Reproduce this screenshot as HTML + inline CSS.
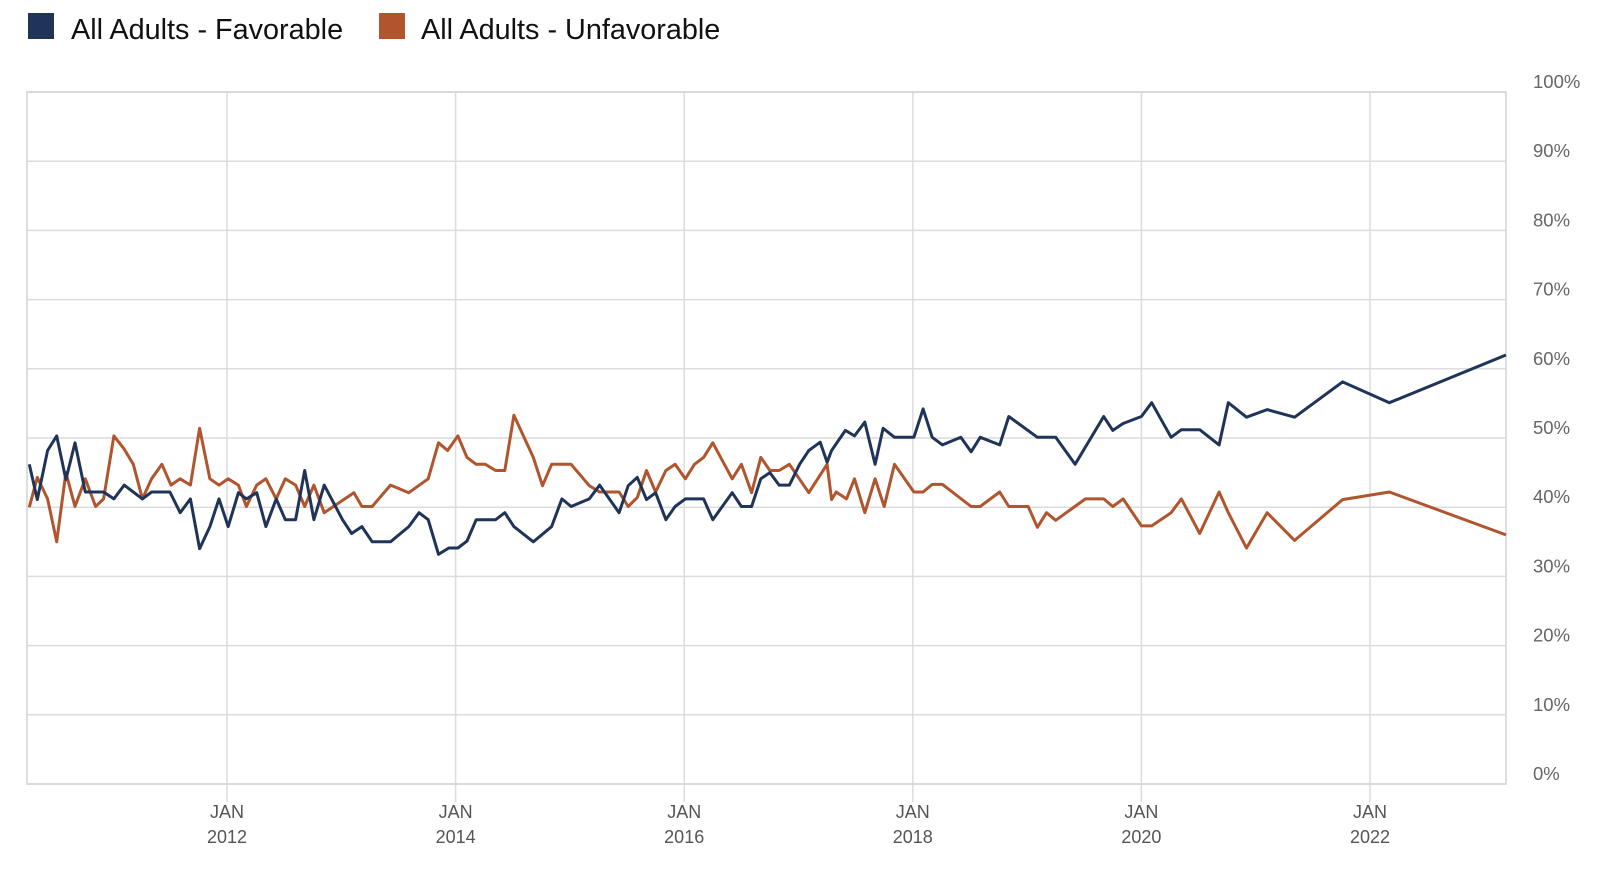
<!DOCTYPE html>
<html><head><meta charset="utf-8">
<style>
html,body{margin:0;padding:0;background:#fff;}
body{width:1600px;height:874px;overflow:hidden;font-family:"Liberation Sans",Arial,sans-serif;}
svg{display:block;}
</style></head>
<body>
<svg id="chart" width="1600" height="874" xmlns="http://www.w3.org/2000/svg">
  <g>
    <g>
      <rect x="28" y="13" width="26" height="26" fill="#1f3458"/>
      <text x="71" y="39" font-size="28.8" fill="#111">All Adults - Favorable</text>
    </g>
    <g>
      <rect x="379" y="13" width="26" height="26" fill="#b0552e"/>
      <text x="421" y="39" font-size="28.8" fill="#111">All Adults - Unfavorable</text>
    </g>
  </g>
  <g id="grid"></g>
  <g id="series"></g>
  <g id="axes"></g>
</svg>
<script>
const xTickYears = [2012, 2014, 2016, 2018, 2020, 2022];
const xTickTop = ["JAN", "JAN", "JAN", "JAN", "JAN", "JAN"];
const yTicks = [0, 10, 20, 30, 40, 50, 60, 70, 80, 90, 100];
const yTickLabels = ["0%","10%","20%","30%","40%","50%","60%","70%","80%","90%","100%"];

const favDates = [2010.27,2010.34,2010.43,2010.51,2010.59,2010.67,2010.76,2010.92,2011.01,2011.10,2011.26,2011.34,2011.50,2011.59,2011.68,2011.76,2011.85,2011.93,2012.01,2012.10,2012.17,2012.26,2012.34,2012.43,2012.51,2012.60,2012.68,2012.76,2012.85,2013.01,2013.09,2013.18,2013.27,2013.43,2013.59,2013.68,2013.76,2013.85,2013.94,2014.02,2014.10,2014.18,2014.35,2014.43,2014.51,2014.68,2014.84,2014.93,2015.01,2015.17,2015.26,2015.43,2015.51,2015.59,2015.67,2015.75,2015.84,2015.92,2016.01,2016.17,2016.25,2016.42,2016.50,2016.59,2016.67,2016.75,2016.83,2016.92,2017.01,2017.09,2017.19,2017.25,2017.29,2017.41,2017.49,2017.58,2017.67,2017.74,2017.84,2018.01,2018.09,2018.17,2018.26,2018.42,2018.51,2018.59,2018.76,2018.84,2019.09,2019.25,2019.42,2019.67,2019.75,2019.84,2020.00,2020.09,2020.26,2020.35,2020.51,2020.68,2020.76,2020.92,2021.10,2021.34,2021.76,2022.17,2023.19];
const favValues = [46.2,41.1,48.2,50.3,44,49.3,42.2,42.2,41.2,43.2,41.2,42.2,42.2,39.2,41.2,34,37.2,41.2,37.2,42.1,41.2,42.1,37.2,41.2,38.2,38.2,45.3,38.2,43.2,38.2,36.2,37.2,35,35,37.2,39.2,38.2,33.2,34.1,34.1,35.1,38.2,38.2,39.2,37.2,35,37.2,41.2,40.1,41.2,43.2,39.2,43.1,44.3,41.1,42.1,38.2,40.1,41.2,41.2,38.2,42.1,40.1,40.1,44.1,45,43.2,43.2,46.2,48.2,49.4,46.5,48.2,51.1,50.3,52.3,46.2,51.4,50.1,50.1,54.2,50.1,49,50.1,48,50.1,49,53.1,50.1,50.1,46.2,53.1,51.1,52.1,53.1,55.1,50.1,51.2,51.2,49,55.1,53,54.1,53,58.1,55.1,62];

const unfDates = [2010.27,2010.34,2010.43,2010.51,2010.59,2010.67,2010.76,2010.85,2010.92,2011.01,2011.10,2011.18,2011.26,2011.34,2011.43,2011.51,2011.59,2011.68,2011.76,2011.85,2011.93,2012.01,2012.10,2012.17,2012.26,2012.34,2012.43,2012.51,2012.60,2012.68,2012.76,2012.85,2013.11,2013.18,2013.27,2013.43,2013.59,2013.76,2013.85,2013.93,2014.02,2014.10,2014.18,2014.26,2014.35,2014.43,2014.51,2014.68,2014.76,2014.84,2015.01,2015.17,2015.26,2015.43,2015.51,2015.59,2015.67,2015.75,2015.84,2015.92,2016.01,2016.09,2016.17,2016.25,2016.42,2016.50,2016.59,2016.67,2016.75,2016.83,2016.92,2017.09,2017.25,2017.29,2017.33,2017.42,2017.49,2017.58,2017.67,2017.75,2017.84,2018.01,2018.09,2018.17,2018.26,2018.51,2018.59,2018.76,2018.84,2019.01,2019.09,2019.17,2019.25,2019.51,2019.67,2019.75,2019.84,2020.00,2020.09,2020.26,2020.35,2020.51,2020.68,2020.76,2020.92,2021.10,2021.34,2021.76,2022.17,2023.19];
const unfValues = [40,44.3,41.2,35,45,40.1,44.1,40.1,41.2,50.3,48.4,46.2,41.2,44.1,46.2,43.2,44.1,43.2,51.4,44.1,43.2,44.1,43.2,40.1,43.2,44.1,41.2,44.1,43.2,40.1,43.2,39.2,42.1,40.1,40.1,43.2,42.1,44.1,49.3,48.2,50.3,47.2,46.2,46.2,45.3,45.3,53.3,47.2,43.1,46.2,46.2,43.1,42.2,42.2,40.1,41.4,45.3,42.2,45.3,46.2,44.1,46.2,47.2,49.3,44.1,46.2,42.1,47.2,45.3,45.3,46.2,42.1,46.2,41.1,42.2,41.2,44.1,39.2,44.1,40.1,46.2,42.2,42.2,43.3,43.3,40.1,40.1,42.2,40.1,40.1,37.1,39.2,38.1,41.2,41.2,40.1,41.2,37.3,37.3,39.2,41.2,36.2,42.2,39.2,34.1,39.2,35.2,41.1,42.2,36];

const L=27, R=1506, T=92, B=784;
const X0=2010.25, X1=2023.19;
function xs(yr){ return L + (yr - X0) / (X1 - X0) * (R - L); }
function ys(v){ return B - v / 100 * (B - T); }
const NS="http://www.w3.org/2000/svg";
function mk(tag, attrs, parent){ const e=document.createElementNS(NS,tag); for(const k in attrs) e.setAttribute(k,attrs[k]); parent.appendChild(e); return e; }

const grid=document.getElementById('grid');
const axes=document.getElementById('axes');
const series=document.getElementById('series');

yTicks.forEach((t,i)=>{
  const y=ys(t);
  const ln=mk('line',{x1:L,x2:R,y1:y,y2:y,stroke:'#dcdcdc','stroke-width':1.5},grid);
  
  
  const tx=mk('text',{x:1533,y:y-4,'font-size':18.5,fill:'#666'},axes);
  tx.textContent=yTickLabels[i];
  
  
});
xTickYears.forEach((yr,i)=>{
  const x=xs(yr);
  const ln=mk('line',{x1:x,x2:x,y1:T,y2:B+18,stroke:'#dcdcdc','stroke-width':1.5},grid);
  
  
  const t1=mk('text',{x:x,y:818,'font-size':18,fill:'#555','text-anchor':'middle'},axes);
  t1.textContent=xTickTop[i];
  
  
  const t2=mk('text',{x:x,y:843,'font-size':18,fill:'#555','text-anchor':'middle'},axes);
  t2.textContent=String(yr);
  
  
});
const frame=mk('rect',{x:L,y:T,width:R-L,height:B-T,fill:'none',stroke:'#d4d4d4','stroke-width':1.5},grid);



function line(dates, vals, color, name){
  const d=dates.map((t,i)=>(i?'L':'M')+xs(t).toFixed(1)+' '+ys(vals[i]).toFixed(1)).join(' ');
  const p=mk('path',{d:d,fill:'none',stroke:color,'stroke-width':3,'stroke-linejoin':'round'},series);
  
  
}
line(unfDates,unfValues,'#b0552e','unfavorable-line');
line(favDates,favValues,'#1f3458','favorable-line');
</script>
</body></html>
